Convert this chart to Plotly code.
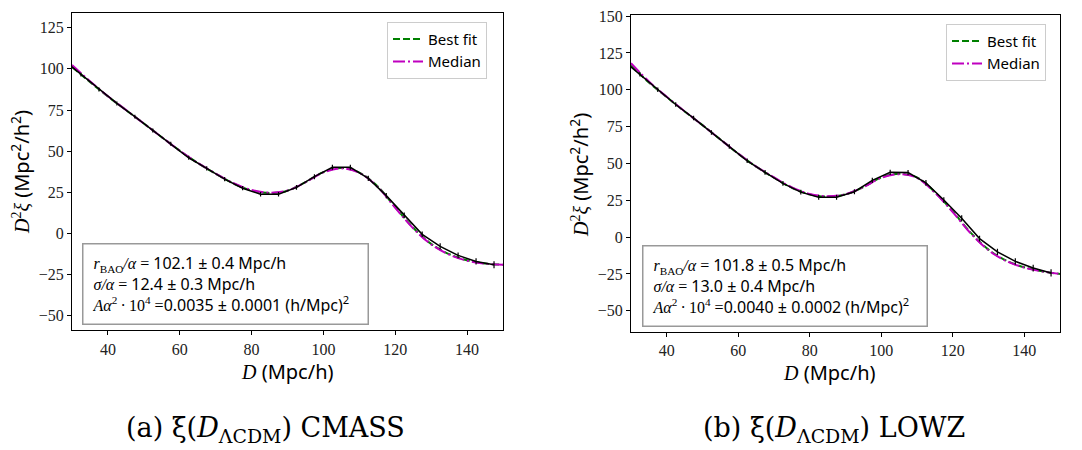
import plotly.graph_objects as go

# ---------------- data ----------------
D_data = [27.5, 32.5, 37.5, 42.5, 47.5, 52.5, 57.5, 62.5, 67.5, 72.5, 77.5, 82.5, 87.5,
          92.5, 97.5, 102.5, 107.5, 112.5, 117.5, 122.5, 127.5, 132.5, 137.5, 142.5, 147.5]

xi_cmass = [105.5, 96.5, 87.5, 79.0, 71.0, 62.5, 54.5, 46.0, 39.5, 33.0, 27.5, 23.8, 23.8,
            28.0, 34.5, 40.2, 40.2, 33.5, 23.0, 11.0, -0.5, -7.8, -13.3, -17.0, -19.0]
err_cmass = [1.2, 1.2, 1.2, 1.2, 1.2, 1.2, 1.2, 1.2, 1.3, 1.3, 1.3, 1.4, 1.4,
             1.4, 1.5, 1.5, 1.5, 1.6, 1.6, 1.7, 1.7, 1.8, 1.8, 1.9, 2.1]

xi_lowz = [120.5, 110.5, 100.0, 90.0, 80.8, 71.0, 61.5, 51.8, 44.0, 36.5, 30.5, 27.1, 27.1,
           30.8, 38.5, 44.0, 43.8, 36.8, 25.2, 12.8, -1.0, -10.0, -16.5, -21.0, -24.3]
err_lowz = [1.5, 1.5, 1.5, 1.5, 1.5, 1.5, 1.5, 1.5, 1.6, 1.6, 1.6, 1.7, 1.7,
            1.7, 1.8, 1.8, 1.8, 1.9, 1.9, 2.0, 2.0, 2.1, 2.2, 2.3, 2.5]

D_model = [30, 35, 40, 45, 50, 55, 60, 65, 70, 75, 80, 85, 90, 95, 100,
           105, 110, 115, 120, 125, 130, 135, 140, 145, 150]

best_cmass = [101.2, 92.0, 83.2, 75.0, 66.8, 58.5, 50.3, 42.8, 36.3, 30.3, 26.2, 24.6, 26.0,
              31.2, 37.3, 39.8, 37.0, 28.8, 16.0, 3.5, -6.3, -12.5, -16.3, -18.2, -19.0]
median_cmass = [102.3, 92.5, 83.4, 75.1, 66.8, 58.5, 50.3, 42.9, 36.4, 30.5, 26.4, 24.8, 26.1,
                31.1, 37.1, 39.6, 36.8, 28.5, 15.6, 3.1, -6.6, -12.8, -16.5, -18.3, -19.0]

best_lowz = [116.5, 105.0, 95.0, 85.3, 76.0, 66.3, 56.6, 47.8, 40.3, 33.5, 29.0, 27.5, 29.0,
             34.0, 40.5, 43.0, 40.5, 30.5, 17.5, 3.0, -8.5, -16.0, -20.5, -23.2, -25.0]
median_lowz = [118.0, 105.6, 95.2, 85.4, 76.0, 66.3, 56.7, 47.9, 40.5, 33.8, 29.3, 27.8, 29.1,
               33.9, 40.2, 42.7, 40.2, 30.1, 17.0, 2.6, -8.9, -16.3, -20.7, -23.3, -25.0]

x_ticks = [40, 60, 80, 100, 120, 140]
y_ticks_cmass = [-50, -25, 0, 25, 50, 75, 100, 125]
y_ticks_lowz = [-50, -25, 0, 25, 50, 75, 100, 125, 150]

params_cmass = ["102.1 ± 0.4", "12.4 ± 0.3", "0.0035 ± 0.0001"]
params_lowz = ["101.8 ± 0.5", "13.0 ± 0.4", "0.0040 ± 0.0002"]
captions = ["CMASS", "LOWZ"]

# ---------------- figure ----------------
W, H = 1082, 450
SERIF = "Liberation Serif"
CAPSERIF = "DejaVu Serif"
SANS = "Noto Sans"
GREEN = "#008000"
MAGENTA = "#bf00bf"

fig = go.Figure()

def px_x(p):
    return p / W

def px_y(p):
    return 1 - p / H

panels = [
    dict(xa="x", ya="y", D=D_data, xi=xi_cmass, err=err_cmass, best=best_cmass,
         med=median_cmass, legend="legend"),
    dict(xa="x2", ya="y2", D=D_data, xi=xi_lowz, err=err_lowz, best=best_lowz,
         med=median_lowz, legend="legend2"),
]

for p in panels:
    fig.add_trace(go.Scatter(x=D_model, y=p["best"], mode="lines", name="Best fit",
                             line=dict(color=GREEN, width=2, dash="7px,3px", shape="spline"),
                             xaxis=p["xa"], yaxis=p["ya"], legend=p["legend"]))
    fig.add_trace(go.Scatter(x=D_model, y=p["med"], mode="lines", name="Median",
                             line=dict(color=MAGENTA, width=2, dash="12px,3px,2px,3px",
                                       shape="spline"),
                             xaxis=p["xa"], yaxis=p["ya"], legend=p["legend"]))
    fig.add_trace(go.Scatter(x=p["D"], y=p["xi"], mode="lines", showlegend=False,
                             line=dict(color="black", width=1.5),
                             error_y=dict(type="data", array=p["err"], visible=True,
                                          color="black", thickness=1.2, width=0),
                             xaxis=p["xa"], yaxis=p["ya"]))

axis_common = dict(showline=True, linecolor="black", linewidth=1, mirror=True,
                   ticks="outside", ticklen=4, tickwidth=1, tickcolor="black",
                   showgrid=False, zeroline=False, ticklabeloverflow="allow",
                   tickfont=dict(family=SERIF, size=16, color="#222"))

leg_common = dict(xanchor="left", yanchor="top", bgcolor="white",
                  bordercolor="#cccccc", borderwidth=1,
                  font=dict(family=SANS, size=15, color="black"),
                  itemwidth=30, tracegroupgap=2)

fig.update_layout(
    width=W, height=H, margin=dict(l=0, r=0, t=0, b=0),
    paper_bgcolor="white", plot_bgcolor="white",
    xaxis=dict(domain=[px_x(72), px_x(503)], range=[30, 150], tickvals=x_ticks,
               anchor="y", **axis_common),
    yaxis=dict(domain=[px_y(328.3), px_y(5.3)], range=[-58.9, 133.8],
               tickvals=y_ticks_cmass, anchor="x", **axis_common),
    xaxis2=dict(domain=[px_x(631), px_x(1060)], range=[30, 150], tickvals=x_ticks,
                anchor="y2", **axis_common),
    yaxis2=dict(domain=[px_y(330), px_y(7.5)], range=[-64.5, 150.5],
                tickvals=y_ticks_lowz, anchor="x2", **axis_common),
    legend=dict(x=px_x(387), y=px_y(14), **leg_common),
    legend2=dict(x=px_x(946), y=px_y(16), **leg_common),
    showlegend=True,
)

def ser(t, italic=True):
    s = f"<span style=\"font-family:{SERIF}\">{t}</span>"
    return f"<i>{s}</i>" if italic else s

TS = "\u2009"
ann = []
ytitle = (ser("D") + ser("<sup>2</sup>", False) + ser("ξ") + " (Mpc<sup>2</sup>/h<sup>2</sup>)")
xtitle = ser("D") + " (Mpc/h)"

for (cx, cy_title, ty_x, ty_y, box, prm, lab, cap, capx) in [
    (287, 370, 20, 167, (82, 239, 363, 321), params_cmass, "a", captions[0], 265),
    (829, 371, 580, 170, (642, 241, 922, 323), params_lowz, "b", captions[1], 834),
]:
    ann.append(dict(x=px_x(cx), y=px_y(cy_title), xref="paper", yref="paper",
                    text=xtitle, showarrow=False, xanchor="center", yanchor="middle",
                    font=dict(family=SANS, size=20, color="black")))
    ann.append(dict(x=px_x(ty_x), y=px_y(ty_y), xref="paper", yref="paper",
                    text=ytitle, showarrow=False, textangle=-90,
                    xanchor="center", yanchor="middle",
                    font=dict(family=SANS, size=20, color="black")))
    x0, y0, x1, y1 = box
    lines = [
        ser("r") + ser("<sub>BAO</sub>", False) + ser("/α") + ser(" = ", False)
        + f"{prm[0]} Mpc/h",
        ser("σ/α") + ser(" = ", False) + f"{prm[1]} Mpc/h",
        ser("Aα") + ser(f"<sup>2</sup>{TS}·{TS}10<sup>4</sup> =", False)
        + f"{prm[2]} (h/Mpc)<sup>2</sup>",
    ]
    ann.append(dict(x=px_x(x0), y=px_y(y0), xref="paper", yref="paper",
                    text="<br>".join(lines), showarrow=False, align="left",
                    xanchor="left", yanchor="top",
                    width=x1 - x0 - 15, height=y1 - y0 - 21, borderpad=9, valign="middle",
                    bordercolor="#999999", borderwidth=1.5, bgcolor="white",
                    font=dict(family=SANS, size=16, color="black")))
    ann.append(dict(x=px_x(capx), y=px_y(429), xref="paper", yref="paper",
                    text=f"({lab}) ξ(" + f"<i>D</i>" + "<sub>ΛCDM</sub>) " + cap,
                    showarrow=False, xanchor="center", yanchor="middle",
                    font=dict(family=CAPSERIF, size=27, color="black")))

fig.update_layout(annotations=ann)
fig.write_html("out.html", config={"displayModeBar": False},
               post_script="document.body.style.margin='0';")
